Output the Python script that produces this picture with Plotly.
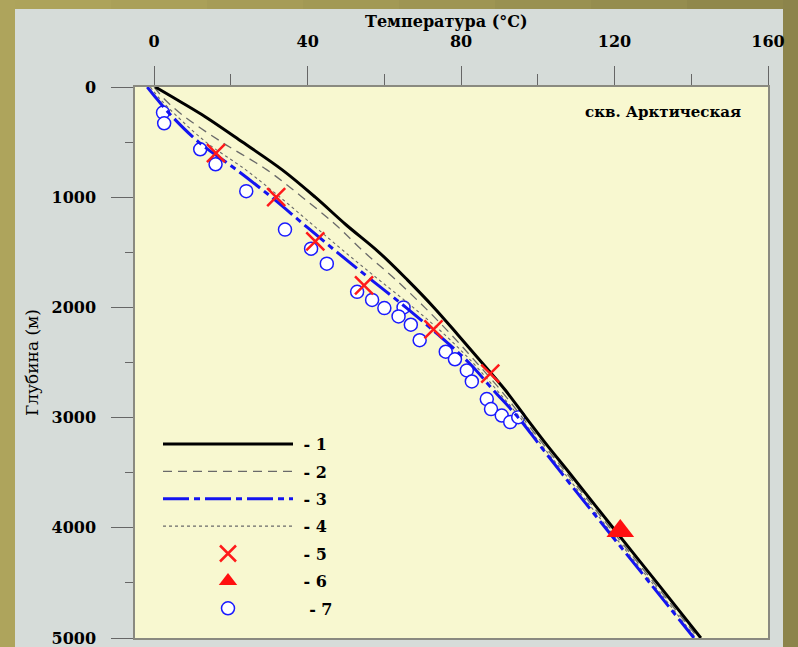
import plotly.graph_objects as go

# ---------------- data ----------------
depth = [0, 100, 250, 500, 750, 1000, 1250, 1500, 1750, 2000, 2250, 2500,
         2750, 3000, 3250, 3500, 4000, 4500, 5000]
t_line1 = [0.3, 5.2, 12.4, 23.0, 33.3, 42.0, 50.0, 58.6, 66.0, 72.9, 79.2, 85.4,
           91.5, 96.9, 102.4, 108.2, 119.6, 131.1, 142.5]
t_line2 = [0.0, 2.4, 7.2, 17.6, 29.3, 38.6, 47.3, 54.8, 63.0, 70.5, 77.5, 84.0,
           90.3, 96.0, 101.6, 107.4, 118.8, 130.3, 141.8]
t_line3 = [-1.8, 0.5, 4.2, 11.6, 21.4, 30.6, 39.1, 47.7, 56.6, 65.6, 74.1, 82.0,
           88.4, 94.9, 100.5, 106.1, 117.6, 129.2, 140.7]
t_line4 = [-1.0, 1.3, 5.5, 13.5, 23.8, 32.8, 41.3, 49.8, 58.6, 67.5, 75.8, 83.0,
           89.3, 95.4, 101.0, 106.8, 118.2, 129.8, 141.2]

cross_t = [16.1, 31.8, 42.0, 54.7, 72.8, 87.6]
cross_d = [600, 1000, 1400, 1800, 2200, 2600]

tri_t = [121.5]
tri_d = [4030]

circ_t = [2.3, 2.6, 12.0, 16.0, 24.0, 34.1, 40.9, 45.0, 52.9, 56.8, 60.0, 65.0,
          63.7, 66.9, 69.2, 76.0, 78.4, 81.5, 82.8, 86.7, 87.8, 90.6, 92.8, 94.9]
circ_d = [232, 329, 565, 701, 945, 1294, 1467, 1603, 1859, 1932, 2006, 2000,
          2082, 2157, 2298, 2402, 2471, 2572, 2672, 2832, 2923, 2981, 3041, 2996]

legend_names = [" - 1", " - 2", " - 3", " - 4", " - 5", " - 6", "  - 7"]
x_ticks = [0, 40, 80, 120, 160]
y_ticks = [0, 1000, 2000, 3000, 4000, 5000]

SERIF = "DejaVu Serif"

fig = go.Figure()

# draw order: circles, thin lines, main lines, markers
fig.add_trace(go.Scatter(x=circ_t, y=circ_d, mode="markers", name=legend_names[6],
                         legendrank=7, legendgroup="g7",
                         marker=dict(symbol="circle", size=13, color="white",
                                     line=dict(color="#1a1aff", width=1.5))))
fig.add_trace(go.Scatter(x=t_line4, y=depth, mode="lines", name=legend_names[3],
                         legendrank=4, legendgroup="g4", line_shape="spline",
                         line=dict(color="#6a6a6a", width=1.1, dash="3px,3px")))
fig.add_trace(go.Scatter(x=t_line2, y=depth, mode="lines", name=legend_names[1],
                         legendrank=2, legendgroup="g2", line_shape="spline",
                         line=dict(color="#6a6a6a", width=1.3, dash="9px,6px")))
fig.add_trace(go.Scatter(x=t_line1, y=depth, mode="lines", name=legend_names[0],
                         legendrank=1, legendgroup="g1", line_shape="spline",
                         line=dict(color="black", width=3)))
fig.add_trace(go.Scatter(x=t_line3, y=depth, mode="lines", name=legend_names[2],
                         legendrank=3, legendgroup="g3", line_shape="spline",
                         line=dict(color="#1414f0", width=3, dash="26px,5px,6px,5px")))
fig.add_trace(go.Scatter(x=cross_t, y=cross_d, mode="markers", name=legend_names[4],
                         legendrank=5, legendgroup="g5",
                         marker=dict(symbol="x-thin", size=18, color="#ff1a1a",
                                     line=dict(color="#ff1a1a", width=2.5))))
fig.add_trace(go.Scatter(x=tri_t, y=tri_d, mode="markers", name=legend_names[5],
                         legendrank=6, legendgroup="g6",
                         marker=dict(symbol="triangle-up", size=24, color="#ff1010")))

# plot area in pixels: x 135-768, y 87-638
L, R, T, B = 135, 768, 87, 638
W, H = R - L, B - T
def px(x):
    return (x - L) / W
def py(y):
    return (B - y) / H

shapes = [
    dict(type="rect", xref="paper", yref="paper", x0=px(15), x1=px(783), y0=py(647), y1=py(9),
         fillcolor="#d6dcd9", line=dict(width=0), layer="below"),
    dict(type="rect", xref="paper", yref="paper", x0=px(0), x1=px(15), y0=py(647), y1=py(0),
         fillcolor="#aea45c", line=dict(width=0), layer="below"),
    dict(type="rect", xref="paper", yref="paper", x0=px(783), x1=px(798), y0=py(647), y1=py(0),
         fillcolor="#8c844b", line=dict(width=0), layer="below"),
    dict(type="rect", xref="paper", yref="paper", x0=0, x1=1, y0=0, y1=1,
         fillcolor="#f8f8d0", line=dict(width=0), layer="below"),
]
top_cols = ["#ada35b", "#aaa059", "#a69c57", "#a29955", "#9e9553", "#999151", "#958d4f", "#90884c"]
for i, c in enumerate(top_cols):
    shapes.append(dict(type="rect", xref="paper", yref="paper",
                       x0=px(15 + i * 96), x1=px(15 + (i + 1) * 96), y0=py(9), y1=py(0),
                       fillcolor=c, line=dict(width=0), layer="below"))

annotations = [
    dict(text="<b>Температура (°C)</b>", xref="paper", yref="paper", x=px(446), y=py(21),
         showarrow=False, xanchor="center", yanchor="middle",
         font=dict(family=SERIF, size=16, color="black")),
    dict(text="Глубина (м)", xref="paper", yref="paper", x=px(32), y=py(363),
         showarrow=False, xanchor="center", yanchor="middle", textangle=-90,
         font=dict(family=SERIF, size=17, color="black")),
    dict(text="<b>скв. Арктическая</b>", xref="paper", yref="paper", x=px(663), y=py(112),
         showarrow=False, xanchor="center", yanchor="middle",
         font=dict(family=SERIF, size=15, color="black")),
]

fig.update_layout(
    width=798, height=647,
    margin=dict(l=L, r=798 - R, t=T, b=647 - B, pad=0),
    paper_bgcolor="#a0975a",
    plot_bgcolor="rgba(0,0,0,0)",
    shapes=shapes,
    annotations=annotations,
    showlegend=True,
    legend=dict(x=px(158), y=py(427), xanchor="left", yanchor="top",
                bgcolor="rgba(0,0,0,0)", borderwidth=0, itemwidth=130,
                tracegroupgap=3.6, traceorder="grouped",
                font=dict(family=SERIF, size=16, color="black", weight="bold")),
)

fig.update_xaxes(
    side="top", range=[-5, 160], tickmode="array", tickvals=x_ticks,
    ticktext=[str(v) for v in x_ticks], automargin=False, ticklabeloverflow="allow",
    ticks="outside", ticklen=19, tickwidth=1.3, tickcolor="#666",
    ticklabelstandoff=13,
    minor=dict(dtick=20, tick0=0, ticks="outside", ticklen=11, tickwidth=1.3, tickcolor="#666",
               showgrid=False),
    showline=True, linecolor="#8a8a80", linewidth=1.5, mirror=True,
    showgrid=False, zeroline=False,
    tickfont=dict(family=SERIF, size=16, color="black", weight="bold"),
)
fig.update_yaxes(
    range=[5000, 0], tickmode="array", tickvals=y_ticks,
    ticktext=[str(v) for v in y_ticks], automargin=False, ticklabeloverflow="allow",
    ticks="outside", ticklen=22, tickwidth=1.3, tickcolor="#666",
    ticklabelstandoff=12,
    minor=dict(dtick=500, tick0=0, ticks="outside", ticklen=8, tickwidth=1.3, tickcolor="#666",
               showgrid=False),
    showline=True, linecolor="#8a8a80", linewidth=1.5, mirror=True,
    showgrid=False, zeroline=False,
    tickfont=dict(family=SERIF, size=16, color="black", weight="bold"),
)

fig.write_html("out.html")
